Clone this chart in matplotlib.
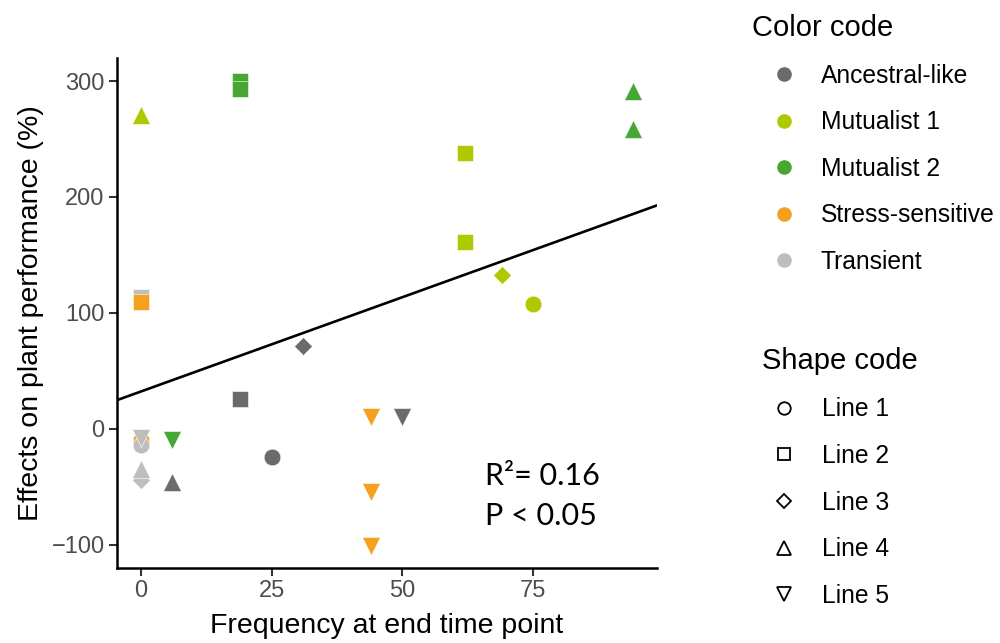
import numpy as np
import matplotlib
matplotlib.use("Agg")
import matplotlib.pyplot as plt
from matplotlib.lines import Line2D

plt.rcParams['font.family'] = ['Liberation Sans', 'DejaVu Sans']

# isolates: frequency at end point, effect on plant (%), colour group, line of origin
freq = [25, 19, 31, 6, 50,
        75, 62, 62, 69, 0,
        19, 19, 94, 94, 6,
        0, 0, 44, 44, 44,
        0, 0, 0, 0, 0]
effect = [-24, 26, 71, -46, 10,
          108, 238, 161, 133, 271,
          300, 293, 291, 259, -10,
          114, -10, 10, -55, -101,
          109, -14, -44, -35, -8]
group = ["Ancestral-like"] * 5 + ["Mutualist 1"] * 5 + ["Mutualist 2"] * 5 + \
        ["Transient", "Stress-sensitive", "Stress-sensitive", "Stress-sensitive", "Stress-sensitive",
         "Stress-sensitive", "Transient", "Transient", "Transient", "Transient"]
line = [1, 2, 3, 4, 5,
        1, 2, 2, 3, 4,
        2, 2, 4, 4, 5,
        2, 1, 5, 5, 5,
        2, 1, 3, 4, 5]

groups = ["Ancestral-like", "Mutualist 1", "Mutualist 2", "Stress-sensitive", "Transient"]
group_colors = ["#6b6b6b", "#afc900", "#46a832", "#f5a01e", "#bebebe"]
line_names = ["Line 1", "Line 2", "Line 3", "Line 4", "Line 5"]

# linear fit reported on the panel
fit_intercept = 32.0
fit_slope = 1.63
r_squared = 0.16
p_text = "P < 0.05"

markers = {1: "o", 2: "s", 3: "D", 4: "^", 5: "v"}
msizes = {1: 12, 2: 11, 3: 9.5, 4: 13.5, 5: 13.5}
color_of = dict(zip(groups, group_colors))

fig = plt.figure(figsize=(10, 6.43), dpi=100)
ax = fig.add_axes([0.117, 0.117, 0.54, 0.793])

xs = np.array([-4.5, 98.6])
ax.plot(xs, fit_intercept + fit_slope * xs, color="black", lw=1.9, zorder=2)

for x, y, g, l in zip(freq, effect, group, line):
    ax.plot(x, y, marker=markers[l], ms=msizes[l], color=color_of[g],
            mec="white", mew=0.4, ls="none", zorder=3)

ax.set_xlim(-4.5, 98.6)
ax.set_ylim(-120, 320)
ax.set_xticks([0, 25, 50, 75])
ax.set_yticks([-100, 0, 100, 200, 300])
ax.set_yticklabels(["\u2212100", "0", "100", "200", "300"])
for s in ["top", "right"]:
    ax.spines[s].set_visible(False)
for s in ["left", "bottom"]:
    ax.spines[s].set_linewidth(1.8)
ax.tick_params(labelsize=17, labelcolor="#4d4d4d", width=1.5, length=6, color="#333333", pad=3)
ax.set_xlabel("Frequency at end time point", fontsize=20.5, labelpad=8)
ax.set_ylabel("Effects on plant performance (%)", fontsize=20.5, labelpad=5)

stat_font = ["Lato", "DejaVu Sans"]
ax.text(0.681, 0.163, "R\u00b2= %.2f" % r_squared, transform=ax.transAxes,
        fontsize=22, family=stat_font, va="baseline")
ax.text(0.681, 0.084, p_text, transform=ax.transAxes,
        fontsize=22, family=stat_font, va="baseline")

color_handles = [Line2D([], [], marker="o", ls="none", ms=9.5, color=c) for c in group_colors]
leg1 = fig.legend(color_handles, groups, loc="upper left", bbox_to_anchor=(0.742, 0.994),
                  frameon=False, fontsize=17.7, title="Color code", title_fontsize=21,
                  labelspacing=0.91, handlelength=2.6, handletextpad=0.2, borderaxespad=0)
leg1._legend_box.align = "left"

shape_handles = [Line2D([], [], marker=markers[i + 1], ls="none", ms=msizes[i + 1] * 0.75,
                        mfc="none", mec="black", mew=1.3) for i in range(5)]
leg2 = fig.legend(shape_handles, line_names, loc="upper left", bbox_to_anchor=(0.752, 0.476),
                  frameon=False, fontsize=17.7, title="Shape code", title_fontsize=21,
                  labelspacing=0.92, handlelength=1.84, handletextpad=0.6, borderaxespad=0)
leg2._legend_box.align = "left"

fig.savefig("out.png", dpi=100)
